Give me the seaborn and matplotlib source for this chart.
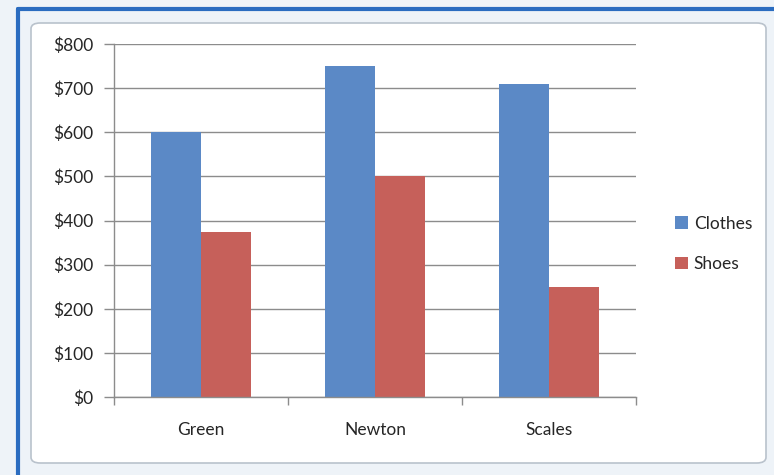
import matplotlib
matplotlib.use("Agg")
import matplotlib.pyplot as plt
from matplotlib.patches import FancyBboxPatch, Rectangle
from matplotlib.lines import Line2D
import seaborn as sns
import pandas as pd

categories = ["Green", "Newton", "Scales"]
series_names = ["Clothes", "Shoes"]
clothes = [600, 750, 710]
shoes = [375, 500, 250]
y_ticks = [0, 100, 200, 300, 400, 500, 600, 700, 800]

colors = {"Clothes": "#5B89C6", "Shoes": "#C6605A"}

df = pd.DataFrame({
    "store": categories * 2,
    "series": ["Clothes"] * len(categories) + ["Shoes"] * len(categories),
    "value": clothes + shoes,
})

sns.set_theme(style="white")
plt.rcParams["font.family"] = ["Lato", "DejaVu Sans"]

W, H = 774, 475
fig = plt.figure(figsize=(W / 100, H / 100), dpi=100)
fig.patch.set_facecolor("#eef3f8")

def fx(px):
    return px / W

def fy(py):
    return 1 - py / H

# window decoration: blue frame lines
fig.add_artist(Line2D([fx(18), fx(18)], [fy(9), 0], transform=fig.transFigure,
                      color="#2a6cc0", lw=3, zorder=-2))
fig.add_artist(Line2D([fx(18), 1], [fy(9), fy(9)], transform=fig.transFigure,
                      color="#2a6cc0", lw=3, zorder=-2))
# chart area rounded rectangle
fig.add_artist(FancyBboxPatch((fx(31), fy(463)), fx(766) - fx(31), fy(23) - fy(463),
                              boxstyle="round,pad=0,rounding_size=0.012",
                              transform=fig.transFigure, facecolor="white",
                              edgecolor="#b9c2cc", lw=1.2, zorder=-1))

ax = fig.add_axes([fx(114), fy(397), fx(636) - fx(114), fy(44) - fy(397)])
ax.set_facecolor("none")
ax.set_zorder(2)

sns.barplot(data=df, x="store", y="value", hue="series", hue_order=series_names,
            order=categories, palette=colors, width=0.575, gap=0,
            saturation=1, ax=ax, legend=False, edgecolor="none")

ax.set_xlim(-0.5, 2.5)
ax.set_ylim(0, 800)
ax.set_yticks(y_ticks)
ax.set_yticklabels([f"${v}" for v in y_ticks])
ax.yaxis.grid(True, color="#8c8c8c", lw=1)
ax.set_axisbelow(True)

ax.set_xticks([0, 1, 2])
ax.set_xticklabels(categories)
ax.set_xticks([-0.5, 0.5, 1.5, 2.5], minor=True)
ax.tick_params(axis="x", which="major", length=0, pad=18, labelsize=12.5,
               labelcolor="#262626")
ax.tick_params(axis="x", which="minor", length=6, direction="out", color="#8c8c8c",
               width=1, bottom=True)
ax.tick_params(axis="y", length=7, direction="out", color="#8c8c8c", width=1,
               pad=8, labelsize=12.5, labelcolor="#262626", left=True)

ax.set_xlabel("")
ax.set_ylabel("")
for side in ["top", "right"]:
    ax.spines[side].set_visible(False)
for side in ["left", "bottom"]:
    ax.spines[side].set_color("#8c8c8c")
    ax.spines[side].set_linewidth(1)

handles = [Rectangle((0, 0), 1, 1, facecolor=colors[s], edgecolor="none") for s in series_names]
fig.legend(handles, series_names, loc="center left",
           bbox_to_anchor=(fx(666), fy(244)), frameon=False, fontsize=12.5,
           handlelength=0.75, handleheight=0.75, handletextpad=0.35,
           labelspacing=1.4, borderpad=0, labelcolor="#262626")

fig.savefig("out.png", dpi=100, facecolor=fig.get_facecolor())
